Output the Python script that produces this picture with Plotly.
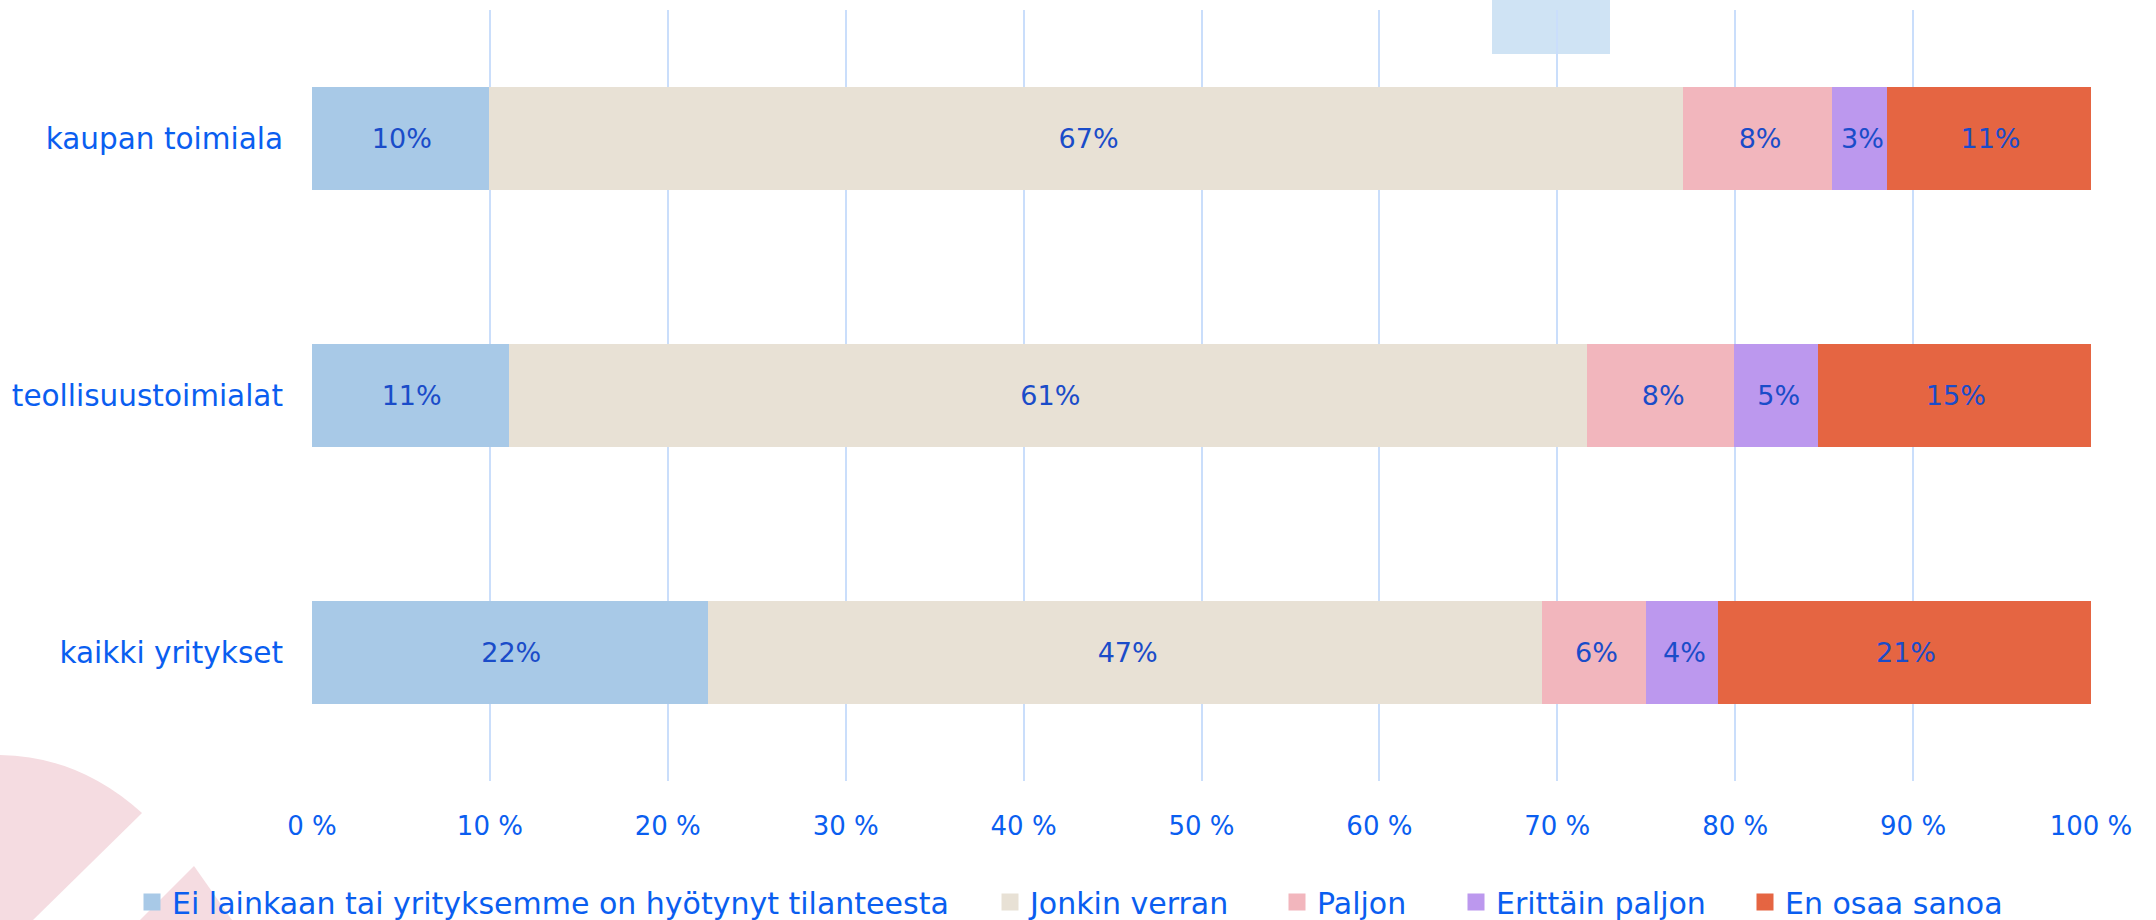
import plotly.graph_objects as go

categories = ["kaupan toimiala", "teollisuustoimialat", "kaikki yritykset"]
series_names = [
    "Ei lainkaan tai yrityksemme on hyötynyt tilanteesta",
    "Jonkin verran",
    "Paljon",
    "Erittäin paljon",
    "En osaa sanoa",
]
ei_lainkaan = [10.1, 11.2, 22.4]
jonkin_verran = [67.1, 60.6, 46.9]
paljon = [8.4, 8.3, 5.8]
erittain_paljon = [3.1, 4.7, 4.1]
en_osaa = [11.3, 15.2, 20.8]
tick_values = [0, 10, 20, 30, 40, 50, 60, 70, 80, 90, 100]
tick_labels = ["0 %", "10 %", "20 %", "30 %", "40 %", "50 %", "60 %", "70 %", "80 %", "90 %", "100 %"]

series_values = [ei_lainkaan, jonkin_verran, paljon, erittain_paljon, en_osaa]
colors = ["#a8c9e7", "#e8e1d5", "#f2b6bd", "#bc98ee", "#e56542"]
legend_ids = ["legend", "legend2", "legend3", "legend4", "legend5"]
legend_x_px = [132, 990, 1277, 1456, 1745]

FONT = "'DejaVu Sans', sans-serif"
TXT = "#0a5ef0"
LBL = "#1a4cc9"

W, H = 2156, 920
L, R, T, B = 312, 65, 10, 139
PW, PH = W - L - R, H - T - B


def px(x):
    return (x - L) / PW


def py(y):
    return (H - B - y) / PH


fig = go.Figure()
for name, vals, col, lid in zip(series_names, series_values, colors, legend_ids):
    fig.add_trace(go.Bar(
        y=categories, x=vals, name=name, orientation="h", legend=lid,
        marker=dict(color=col, line=dict(width=5, color=col)),
        text=[f"{round(v)}%" for v in vals],
        textposition="inside", insidetextanchor="middle",
        textfont=dict(family=FONT, size=27, color=LBL),
        hoverinfo="skip",
    ))

# decorative shapes (background)
arc = (f"M {px(0)},{py(755)} Q {px(79)},{py(756)} {px(142)},{py(813)} "
       f"L {px(33)},{py(920)} L {px(0)},{py(920)} Z")
tri = f"M {px(194)},{py(866)} L {px(232)},{py(920)} L {px(140)},{py(920)} Z"
shapes = [
    dict(type="path", xref="paper", yref="paper", path=arc,
         fillcolor="#f5dce1", line=dict(width=0), layer="below"),
    dict(type="path", xref="paper", yref="paper", path=tri,
         fillcolor="#f5dce1", line=dict(width=0), layer="below"),
    dict(type="rect", xref="paper", yref="paper",
         x0=px(1492), x1=px(1610), y0=py(54), y1=py(-5),
         fillcolor="#cfe3f4", line=dict(width=0), layer="below"),
]

legends = {}
for lid, lx in zip(legend_ids, legend_x_px):
    legends[lid] = dict(
        orientation="h", xref="container", yref="container",
        x=lx / W, xanchor="left", y=(H - 902) / H, yanchor="middle",
        font=dict(family=FONT, size=30, color=TXT),
        bgcolor="rgba(0,0,0,0)", borderwidth=0,
    )

fig.update_layout(
    width=W, height=H,
    margin=dict(l=L, r=R, t=T, b=B, autoexpand=False),
    barmode="stack", bargap=0.619,
    paper_bgcolor="white", plot_bgcolor="white",
    font=dict(family=FONT, size=28, color=TXT),
    shapes=shapes,
    showlegend=True,
    xaxis=dict(range=[0, 100], tickvals=tick_values, ticktext=tick_labels,
               showgrid=True, gridcolor="#cadefb", gridwidth=2,
               zeroline=False, showline=False, ticks="",
               ticklabelstandoff=27,
               tickfont=dict(family=FONT, size=26, color=TXT)),
    yaxis=dict(autorange="reversed", showgrid=False, zeroline=False,
               showline=False, ticks="", ticklabelstandoff=28,
               tickfont=dict(family=FONT, size=29.5, color=TXT)),
    **legends,
)

fig.write_html("out.html", config={"displayModeBar": False},
               post_script="document.body.style.margin='0px';")
